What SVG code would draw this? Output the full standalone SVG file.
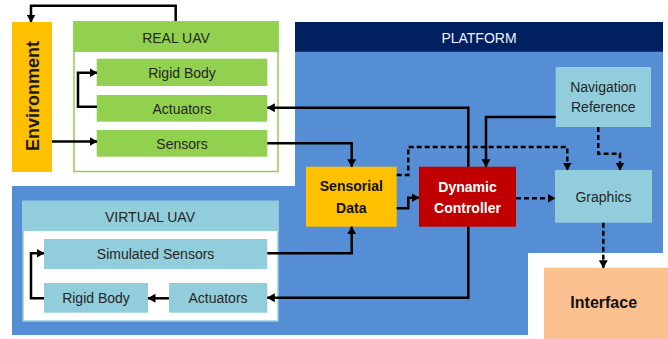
<svg xmlns="http://www.w3.org/2000/svg" width="668" height="339" viewBox="0 0 668 339">
  <defs>
    <marker id="arrow" markerUnits="userSpaceOnUse" markerWidth="9" markerHeight="10" refX="7.5" refY="4.5" orient="auto">
      <path d="M0,0 L8,4.5 L0,9 z" fill="#000"/>
    </marker>
    <style>
      text { font-family: "Liberation Sans", Arial, sans-serif; text-anchor: middle; }
      .lbl { font-size: 14px; fill: #262626; }
      .bold { font-weight: bold; }
      .green { fill: #92D050; }
      .cyan { fill: #92CDDC; }
      .conn { fill: none; stroke: #000; stroke-width: 2.5; marker-end: url(#arrow); }
      .dash { stroke-dasharray: 5 3; }
    </style>
  </defs>

  <rect width="668" height="339" fill="#fff"/>

  <!-- platform background -->
  <g id="platform">
    <path d="M295,22 H663 V253 H528 V335 H12 V186 H295 Z" fill="#558ED5"/>
    <rect x="295" y="22" width="368" height="29.7" fill="#002060"/>
    <text x="479" y="43.3" class="lbl" style="fill:#EEF2FF">PLATFORM</text>
  </g>

  <!-- environment -->
  <g id="environment">
    <rect x="12" y="22" width="40" height="150" fill="#FFC000"/>
    <text x="0" y="0" transform="translate(38.5,96) rotate(-90)" class="bold" style="font-size:18px;fill:#1a1a1a">Environment</text>
  </g>

  <!-- real UAV -->
  <g id="real-uav">
    <rect x="74" y="22" width="204" height="149.5" fill="#fff" stroke="#92D050" stroke-width="1.5"/>
    <rect x="73.3" y="21.3" width="205.4" height="30.7" class="green"/>
    <text x="176" y="43.3" class="lbl">REAL UAV</text>
  </g>
  <g id="real-rigid-body">
    <rect x="96.7" y="58.7" width="170.6" height="27.3" class="green"/>
    <text x="182" y="77.5" class="lbl">Rigid Body</text>
  </g>
  <g id="real-actuators">
    <rect x="96.7" y="95" width="170.6" height="26.7" class="green"/>
    <text x="182" y="113.5" class="lbl">Actuators</text>
  </g>
  <g id="real-sensors">
    <rect x="96.7" y="130" width="170.6" height="26.7" class="green"/>
    <text x="182" y="148.7" class="lbl">Sensors</text>
  </g>

  <!-- virtual UAV -->
  <g id="virtual-uav">
    <rect x="23" y="201.5" width="255" height="119.5" fill="#fff" stroke="#92CDDC" stroke-width="1.5"/>
    <rect x="22" y="200.7" width="256.7" height="30.3" class="cyan"/>
    <text x="150" y="221.7" class="lbl">VIRTUAL UAV</text>
  </g>
  <g id="simulated-sensors">
    <rect x="44" y="239" width="223.3" height="30" class="cyan"/>
    <text x="155.6" y="258.5" class="lbl">Simulated Sensors</text>
  </g>
  <g id="virtual-rigid-body">
    <rect x="44" y="283" width="104" height="29.7" class="cyan"/>
    <text x="96" y="303.3" class="lbl">Rigid Body</text>
  </g>
  <g id="virtual-actuators">
    <rect x="169" y="283" width="98.3" height="29.7" class="cyan"/>
    <text x="218" y="303.3" class="lbl">Actuators</text>
  </g>

  <!-- platform blocks -->
  <g id="sensorial-data">
    <rect x="306" y="166.7" width="90.7" height="60" fill="#FFC000"/>
    <text x="351.3" y="191" class="lbl bold" style="fill:#111">Sensorial</text>
    <text x="351.3" y="212.5" class="lbl bold" style="fill:#111">Data</text>
  </g>
  <g id="dynamic-controller">
    <rect x="419" y="166.7" width="97" height="60" fill="#C00000"/>
    <text x="467.5" y="191.7" class="lbl bold" style="fill:#fff">Dynamic</text>
    <text x="467.5" y="212.7" class="lbl bold" style="fill:#fff">Controller</text>
  </g>
  <g id="navigation-reference">
    <rect x="555.7" y="67" width="95.3" height="60" class="cyan"/>
    <text x="603.3" y="91.7" class="lbl">Navigation</text>
    <text x="603.3" y="112.3" class="lbl">Reference</text>
  </g>
  <g id="graphics">
    <rect x="555" y="170" width="97" height="52.7" class="cyan"/>
    <text x="603.5" y="201.7" class="lbl">Graphics</text>
  </g>

  <!-- interface -->
  <g id="interface">
    <rect x="544" y="267.7" width="124" height="71.3" fill="#FAC090"/>
    <text x="603.7" y="308" class="bold" style="font-size:16px;fill:#111">Interface</text>
  </g>

  <!-- connectors -->
  <g id="connectors">
    <path class="conn" d="M175.7,21 V5.7 H31 V22"/>
    <path class="conn" d="M97,106.7 H78 V72.7 H97"/>
    <path class="conn" d="M52,141.5 H97"/>
    <path class="conn" d="M267.3,143.3 H351.7 V166.7"/>
    <path class="conn" d="M468.3,166.7 V107.7 H267.3"/>
    <path class="conn" d="M468.3,226.7 V297.7 H267.3"/>
    <path class="conn" d="M555.7,117 H486 V166.7"/>
    <path class="conn" d="M396.7,208.3 H408.3 V197.7 H419"/>
    <path class="conn" d="M267.3,253.3 H351.7 V226.7"/>
    <path class="conn" d="M169,298.3 H148"/>
    <path class="conn" d="M44,298.3 H31 V253.3 H44"/>
    <path class="conn dash" d="M396.7,175 H408.3 V147 H567.3 V170"/>
    <path class="conn dash" d="M598.3,127 V153.7 H620 V170"/>
    <path class="conn dash" d="M516,198.3 H555"/>
    <path class="conn dash" d="M603.3,222.7 V267.7"/>
  </g>
</svg>
